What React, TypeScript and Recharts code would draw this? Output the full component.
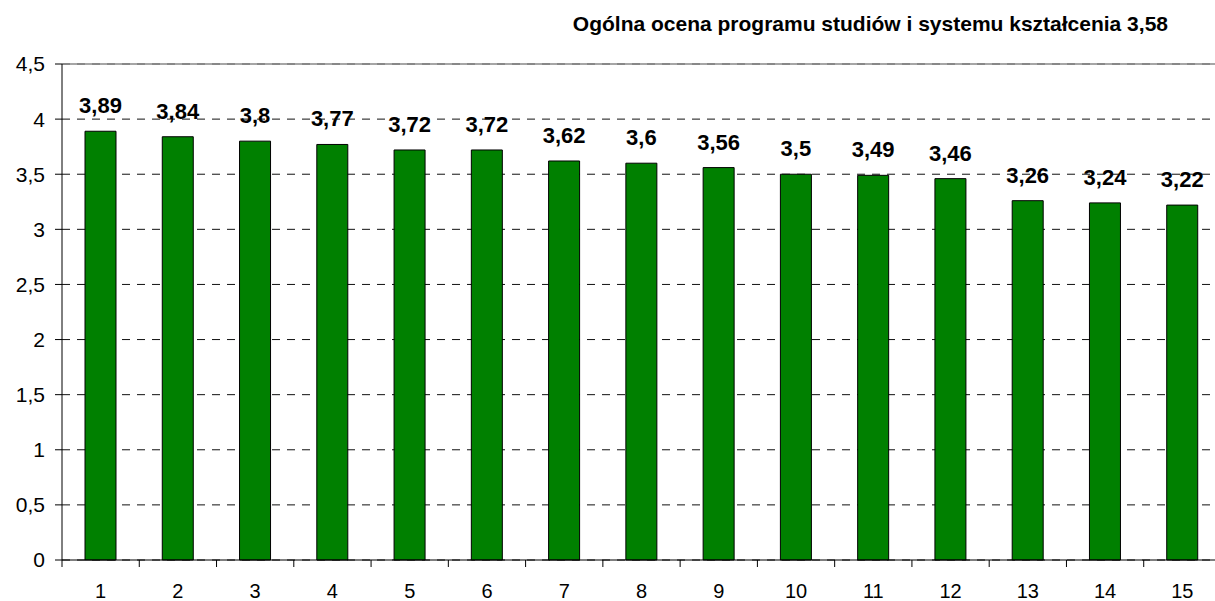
import { Bar, BarChart, CartesianGrid, LabelList, ReferenceLine, XAxis, YAxis } from "recharts";

const categories = ["1", "2", "3", "4", "5", "6", "7", "8", "9", "10", "11", "12", "13", "14", "15"];
const scores = [3.89, 3.84, 3.8, 3.77, 3.72, 3.72, 3.62, 3.6, 3.56, 3.5, 3.49, 3.46, 3.26, 3.24, 3.22];
const yTicks = [0, 0.5, 1, 1.5, 2, 2.5, 3, 3.5, 4, 4.5];
const title = "Ogólna ocena programu studiów i systemu kształcenia 3,58";

const data = categories.map((label, i) => ({ label, score: scores[i] }));

const FONT = '"Liberation Sans", Arial, sans-serif';
const PLOT_LEFT = 62;
const PLOT_RIGHT = 1221;
const PLOT_BOTTOM = 560;
const BAND = (PLOT_RIGHT - PLOT_LEFT) / categories.length;

const comma = (v: number | string) => String(v).replace(".", ",");

// Excel-style axis: tick marks sit between categories, labels in the middle
function CategoryTick(props: any) {
  const { x, payload, index } = props;
  return (
    <g>
      {index === 0 && (
        <line x1={x - BAND / 2} x2={x - BAND / 2} y1={PLOT_BOTTOM} y2={PLOT_BOTTOM + 7} stroke="#000" />
      )}
      <line x1={x + BAND / 2} x2={x + BAND / 2} y1={PLOT_BOTTOM} y2={PLOT_BOTTOM + 7} stroke="#000" />
      <text x={x} y={598} textAnchor="middle" fontSize={20} fontFamily={FONT} fill="#000">
        {payload.value}
      </text>
    </g>
  );
}

function ValueLabel(props: any) {
  const { x, y, width, value } = props;
  return (
    <text
      x={x + width / 2}
      y={y - 18}
      textAnchor="middle"
      fontSize={22}
      fontWeight="bold"
      fontFamily={FONT}
      fill="#000"
    >
      {comma(value)}
    </text>
  );
}

export default function App() {
  return (
    <div
      style={{
        position: "fixed",
        left: 0,
        top: 0,
        width: 1215,
        height: 601,
        overflow: "hidden",
        background: "#fff",
        fontFamily: FONT,
      }}
    >
      <div
        style={{
          position: "absolute",
          right: 1215 - 1168,
          top: 13,
          fontSize: 21,
          lineHeight: "22px",
          fontWeight: "bold",
          whiteSpace: "nowrap",
        }}
      >
        {title}
      </div>
      <BarChart
        width={1230}
        height={601}
        data={data}
        margin={{ top: 64, right: 1230 - PLOT_RIGHT, bottom: 0, left: 0 }}
      >
        <CartesianGrid vertical={false} stroke="#111" strokeDasharray="8 7" />
        <ReferenceLine y={4.5} stroke="#888" strokeWidth={1.5} />
        <XAxis
          dataKey="label"
          height={41}
          tickLine={false}
          axisLine={{ stroke: "#000" }}
          tick={<CategoryTick />}
          interval={0}
        />
        <YAxis
          width={PLOT_LEFT}
          domain={[0, 4.5]}
          ticks={yTicks}
          interval={0}
          tickSize={7}
          tickMargin={10}
          tickFormatter={comma}
          axisLine={{ stroke: "#000" }}
          tickLine={{ stroke: "#000" }}
          tick={{ fill: "#000", fontSize: 21, fontFamily: FONT }}
        />
        <Bar dataKey="score" fill="#008000" stroke="#000" strokeWidth={1} barSize={31} isAnimationActive={false}>
          <LabelList dataKey="score" content={<ValueLabel />} />
        </Bar>
      </BarChart>
    </div>
  );
}
